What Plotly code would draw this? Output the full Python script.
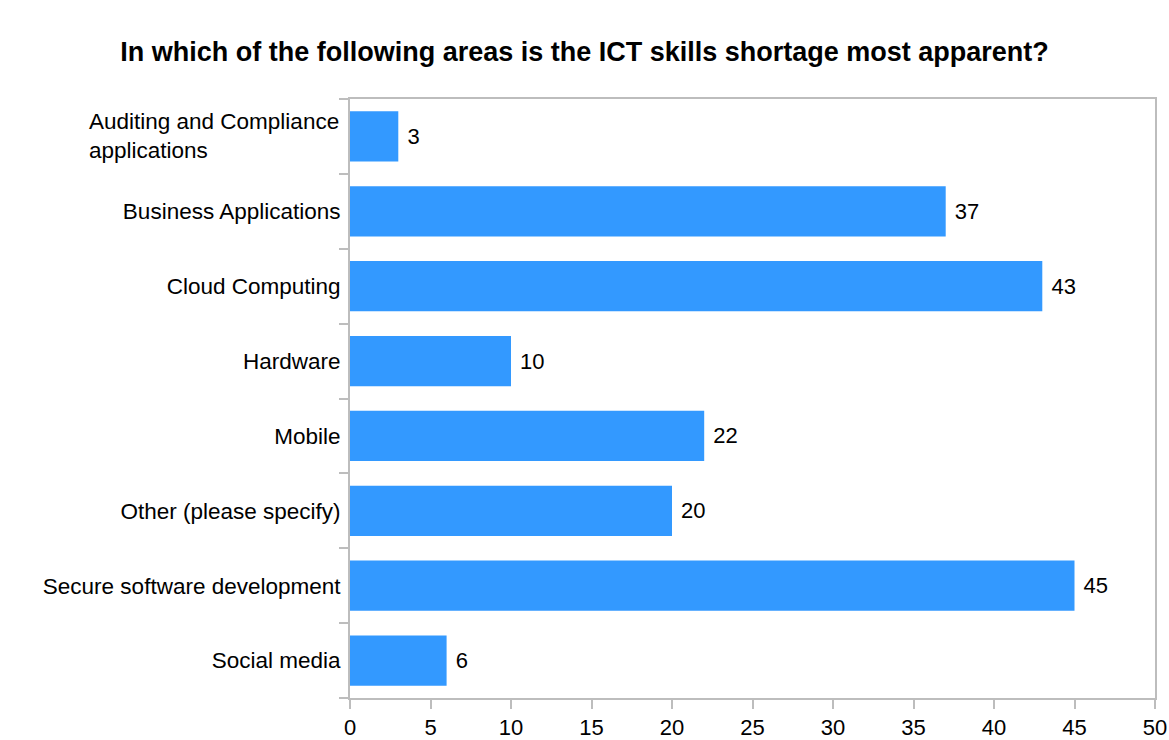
import plotly.graph_objects as go

categories = [
    "Auditing and Compliance applications",
    "Business Applications",
    "Cloud Computing",
    "Hardware",
    "Mobile",
    "Other (please specify)",
    "Secure software development",
    "Social media",
]
# Tick text per category; the two-line first label is drawn as an annotation
# so its lines can be left-aligned.
category_ticktext = [
    "",
    "Business Applications",
    "Cloud Computing",
    "Hardware",
    "Mobile",
    "Other (please specify)",
    "Secure software development",
    "Social media",
]
first_label_lines = ["Auditing and Compliance", "applications"]
responses = [3, 37, 43, 10, 22, 20, 45, 6]
x_ticks = [0, 5, 10, 15, 20, 25, 30, 35, 40, 45, 50]

AXIS_COLOR = "#BDBDBD"
FONT = "Liberation Sans, Arial, sans-serif"
LABEL_SIZE = 22.5

fig = go.Figure(
    go.Bar(
        x=responses,
        y=categories,
        orientation="h",
        marker=dict(color="#3399FF", line=dict(width=0)),
        text=[str(v) for v in responses],
        texttemplate=" %{text}",
        textposition="outside",
        textfont=dict(size=22, color="#000000", family=FONT),
        cliponaxis=False,
    )
)

fig.update_layout(
    width=1169,
    height=740,
    margin=dict(l=350, r=14, t=99, b=42, autoexpand=False),
    paper_bgcolor="white",
    plot_bgcolor="white",
    bargap=0.33,
    showlegend=False,
    title=dict(
        text="<b>In which of the following areas is the ICT skills shortage most apparent?</b>",
        x=0.5,
        xanchor="center",
        y=0.93,
        yanchor="middle",
        font=dict(size=27, color="#000000", family=FONT),
    ),
    font=dict(family=FONT, size=LABEL_SIZE, color="#000000"),
)

fig.add_annotation(
    text="<br>".join(first_label_lines),
    xref="paper",
    x=0,
    xshift=-9,
    xanchor="right",
    yref="y",
    y=categories[0],
    yanchor="middle",
    align="left",
    showarrow=False,
    font=dict(size=LABEL_SIZE, color="#000000", family=FONT),
)

fig.update_xaxes(
    range=[0, 50],
    tickvals=x_ticks,
    ticktext=[str(t) for t in x_ticks],
    showgrid=False,
    zeroline=False,
    showline=True,
    linecolor=AXIS_COLOR,
    linewidth=2,
    mirror=True,
    ticks="outside",
    ticklen=9,
    tickwidth=2,
    tickcolor=AXIS_COLOR,
    ticklabelstandoff=0,
    automargin=False,
    tickfont=dict(size=22, color="#000000", family=FONT),
)

fig.update_yaxes(
    autorange="reversed",
    tickvals=categories,
    ticktext=category_ticktext,
    showgrid=False,
    showline=True,
    linecolor=AXIS_COLOR,
    linewidth=2,
    mirror=True,
    ticks="outside",
    tickson="boundaries",
    ticklen=9,
    tickwidth=2,
    tickcolor=AXIS_COLOR,
    ticklabelstandoff=3,
    automargin=False,
    tickfont=dict(size=LABEL_SIZE, color="#000000", family=FONT),
)

fig.write_html("out.html")
